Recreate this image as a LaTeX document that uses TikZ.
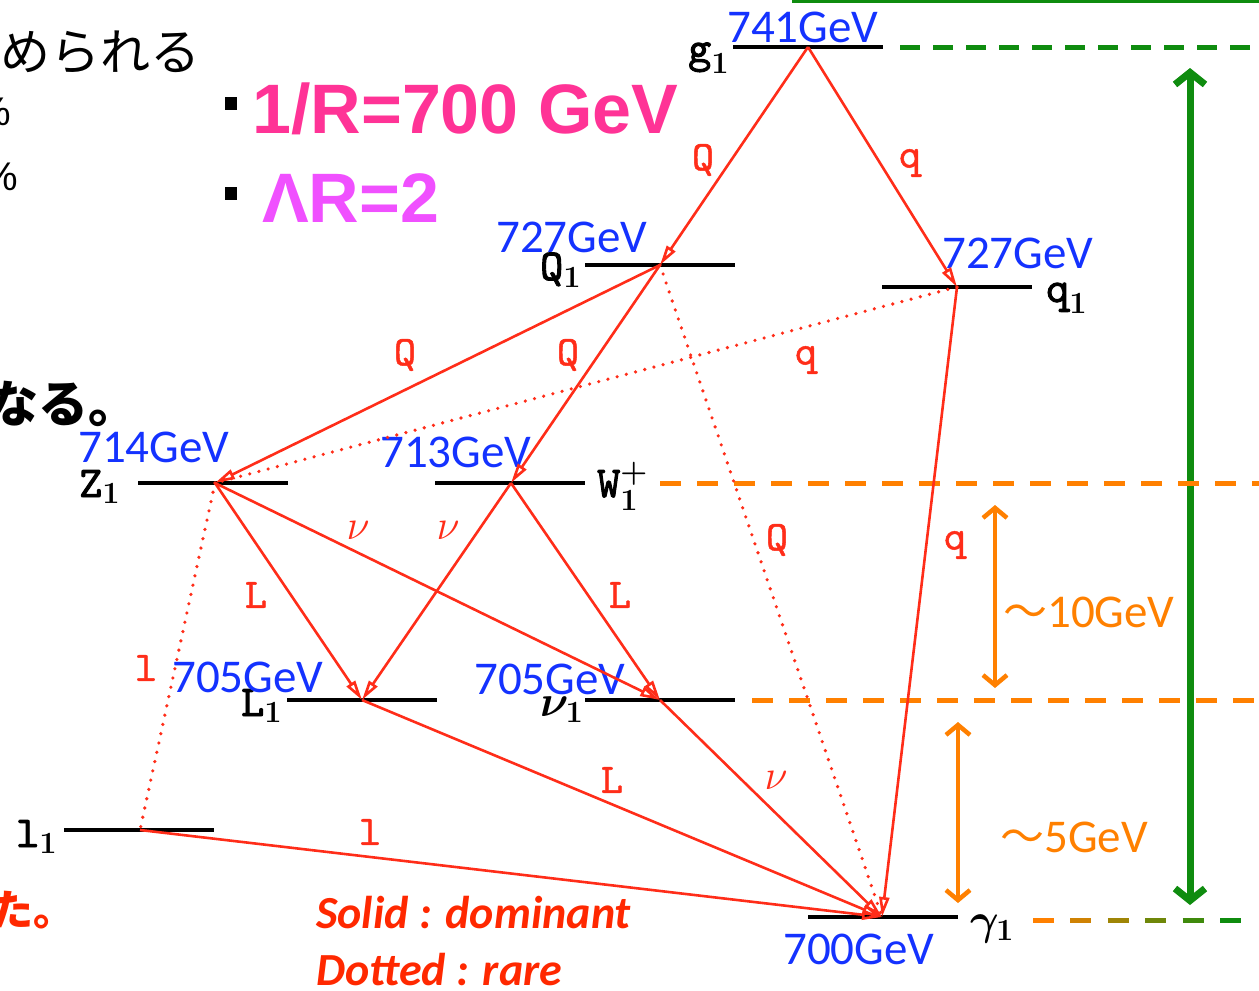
\RequirePackage{fix-cm}
\documentclass[tikz,border=0pt]{standalone}
\usepackage{fontspec}
\newfontfamily\cjk{Noto Sans CJK JP}
\newfontfamily\calfont{Carlito}
\newfontfamily\arialfont{Liberation Sans}
\newfontfamily\ttbold{lmmono10-regular}[Extension=.otf, FakeBold=2.2]
\newfontfamily\ttsemi{lmmono10-regular}[Extension=.otf, FakeBold=1.2]
\usetikzlibrary{arrows.meta}
\definecolor{cred}{RGB}{255,45,25}
\definecolor{ctred}{RGB}{255,40,0}
\definecolor{cblue}{RGB}{20,50,255}
\definecolor{corange}{RGB}{255,128,0}
\definecolor{cgreen}{RGB}{15,140,15}
\definecolor{cpink}{RGB}{255,51,150}
\definecolor{cmag}{RGB}{240,80,255}
\newcommand{\lv}[1]{{\boldmath$\mbox{\ttbold #1}_{\mathbf{1}}$}}
\tikzset{
  level/.style={black, line width=3.4pt},
  decay/.style={cred, line width=2.6pt, -{Triangle[open,length=20pt,width=10pt]}},
  rare/.style={cred, line width=3.6pt, line cap=round, dash pattern=on 0pt off 9.5pt},
  mass/.style={cblue, font=\calfont\fontsize{47}{50}\selectfont, inner sep=0pt, anchor=base west},
  pname/.style={black, font=\fontsize{44}{48}\selectfont, inner sep=0pt, anchor=base west},
  dlab/.style={cred, font=\fontsize{42}{46}\selectfont\ttsemi, inner sep=0pt},
  gap/.style={corange, font=\calfont\fontsize{47}{50}\selectfont, inner sep=0pt, anchor=base west},
  odash/.style={corange, line width=5pt, dash pattern=on 21pt off 16pt},
  gdash/.style={cgreen, line width=5pt, dash pattern=on 20pt off 13pt},
  oarr/.style={corange, line width=4.5pt, {Straight Barb[length=10pt,width=24pt]}-{Straight Barb[length=10pt,width=24pt]}},
  garr/.style={cgreen, line width=7pt, {Straight Barb[length=12pt,width=30pt]}-{Straight Barb[length=12pt,width=30pt]}},
  jtext/.style={font=\cjk\fontsize{50}{54}\selectfont, inner sep=0pt, anchor=base west},
}
\begin{document}
\begin{tikzpicture}[x=1pt,y=-1pt]
\useasboundingbox (0,0) rectangle (1259,991);
\clip (0,0) rectangle (1259,991);
% decay points
\coordinate (g) at (808,47);
\coordinate (Q) at (660,265);
\coordinate (q) at (957,287);
\coordinate (Z) at (215,483);
\coordinate (W) at (511,483);
\coordinate (L) at (362,700);
\coordinate (n) at (660,700);
\coordinate (l) at (140,830);
\coordinate (y) at (882,917);
% green guides
\draw[cgreen, line width=3pt] (792,1) -- (1259,1);
\draw[gdash] (900,47) -- (1259,47);
\draw[garr] (1190,68) -- (1190,905);
% orange guides
\draw[odash] (660,483) -- (1259,483);
\draw[odash] (752,700) -- (1259,700);
\foreach \i in {0,...,5}{
  \pgfmathtruncatemacro\p{100-\i*20}
  \draw[corange!\p!cgreen, line width=5pt] (1033+\i*37.4,920) -- ++(21,0);
}
\draw[oarr] (995,505) -- (995,688);
\draw[oarr] (958,722) -- (958,903);
\node[gap] (t10) at (1003,627) {{\cjk\fontsize{44}{48}\selectfont 〜}10GeV};
\node[gap] (t5) at (1000,852) {{\cjk\fontsize{44}{48}\selectfont 〜}5GeV};
% levels
\draw[level] (733,47) -- (883,47);
\draw[level] (585,265) -- (735,265);
\draw[level] (882,287) -- (1032,287);
\draw[level] (138,483) -- (288,483);
\draw[level] (435,483) -- (585,483);
\draw[level] (287,700) -- (437,700);
\draw[level] (585,700) -- (735,700);
\draw[level] (64,830) -- (214,830);
\draw[level] (808,917) -- (958,917);
% names
\node[pname] (ng) at (688,62) {\lv{g}};
\node[pname] (nQ) at (540,280) {\lv{Q}};
\node[pname] (nq) at (1046,302) {\lv{q}};
\node[pname] (nZ) at (79,497) {\lv{Z}};
\node[pname] (nW) at (597,497) {{\boldmath$\mbox{\ttbold W}_{\mathbf{1}}^{\mathbf{+}}$}};
\node[pname] (nL) at (241,716) {\lv{L}};
\node[pname] (nn) at (540,716) {{\boldmath$\nu_{\mathbf{1}}$}};
\node[pname] (nl) at (16,847) {\lv{l}};
\node[pname] (ny) at (970,934) {{\boldmath$\gamma_{\mathbf{1}}$}};
% masses
\node[mass] (mg) at (727,42) {741GeV};
\node[mass] (mQ) at (496,252) {727GeV};
\node[mass] (mq) at (942,268) {727GeV};
\node[mass] (mZ) at (78,462) {714GeV};
\node[mass] (mW) at (380,467) {713GeV};
\node[mass] (mL) at (172,692) {705GeV};
\node[mass] (mn) at (474,694) {705GeV};
\node[mass] (my) at (783,964) {700GeV};
% decays
\draw[decay] (g) -- (Q);
\draw[decay] (g) -- (q);
\draw[decay] (Q) -- (Z);
\draw[decay] (Q) -- (W);
\draw[rare] (q) -- (Z);
\draw[rare] (Q) -- (y);
\draw[decay] (q) -- (y);
\draw[decay] (Z) -- (L);
\draw[decay] (Z) -- (n);
\draw[decay] (W) -- (L);
\draw[decay] (W) -- (n);
\draw[rare] (Z) -- (l);
\draw[decay] (L) -- (y);
\draw[decay] (n) -- (y);
\draw[decay] (l) -- (y);
% decay labels
\node[dlab] (a1) at (703,160) {Q};
\node[dlab] (a2) at (910,163) {q};
\node[dlab] (a3) at (405,355) {Q};
\node[dlab] (a4) at (568,355) {Q};
\node[dlab] (a5) at (806,360) {q};
\node[dlab] (a6) at (777,540) {Q};
\node[dlab] (a7) at (955,545) {q};
\node[dlab] (a8) at (358,530) {$\nu$};
\node[dlab] (a9) at (448,530) {$\nu$};
\node[dlab] (a10) at (256,595) {L};
\node[dlab] (a11) at (620,595) {L};
\node[dlab] (a12) at (146,668) {l};
\node[dlab] (a13) at (612,780) {L};
\node[dlab] (a14) at (776,780) {$\nu$};
\node[dlab] (a15) at (370,832) {l};
% parameters
\fill[black] (225,97) rectangle (237,110);
\fill[black] (225,187) rectangle (237,200);
\node[cpink, font=\arialfont\bfseries\fontsize{70}{74}\selectfont, inner sep=0pt, anchor=base west] (p1) at (252,133) {1/R=700 GeV};
\node[cmag, font=\arialfont\bfseries\fontsize{70}{74}\selectfont, inner sep=0pt, anchor=base west] (p2) at (262,222) {ΛR=2};
% legend
\node[ctred, font=\calfont\bfseries\itshape\fontsize{46}{50}\selectfont, inner sep=0pt, anchor=base west] (s1) at (316,928) {Solid : dominant};
\node[ctred, font=\calfont\bfseries\itshape\fontsize{46}{50}\selectfont, inner sep=0pt, anchor=base west] (s2) at (316,985) {Dotted : rare};
% clipped japanese text on the left
\node[jtext] (j1) at (0,70) {められる};
\node[black, font=\arialfont\fontsize{40}{44}\selectfont, inner sep=0pt, anchor=base east] (pc1) at (11,125) {\%};
\node[black, font=\arialfont\fontsize{40}{44}\selectfont, inner sep=0pt, anchor=base east] (pc2) at (18,190) {\%};
\node[jtext, font=\cjk\bfseries\fontsize{50}{54}\selectfont] (j2) at (-12,422) {なる。};
\node[jtext, ctred, font=\cjk\bfseries\fontsize{42}{46}\selectfont] (j3) at (-9,925) {た。};
\end{tikzpicture}
\end{document}
